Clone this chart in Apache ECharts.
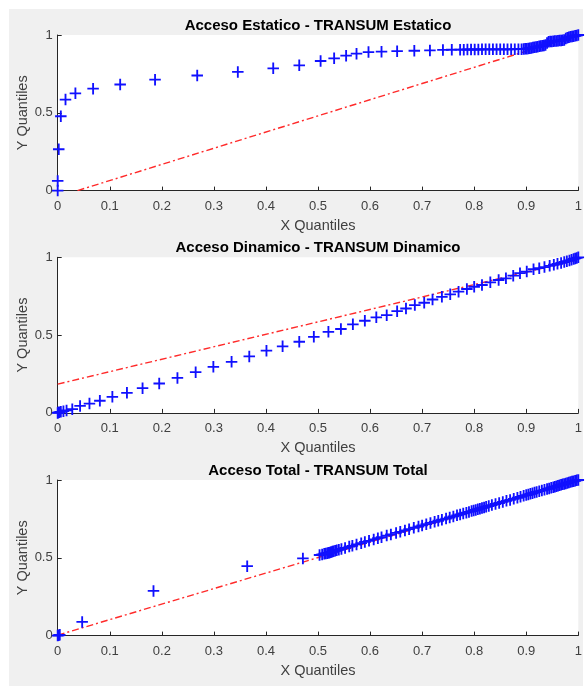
<!DOCTYPE html>
<html>
<head>
<meta charset="utf-8">
<script src="https://cdn.jsdelivr.net/npm/echarts@6/dist/echarts.min.js"></script>
<style>
  html, body { margin: 0; padding: 0; background: #ffffff; }
  #frame { position: absolute; left: 9px; top: 9px; width: 574px; height: 677px; background: #f0f0f0; }
  #chart { position: absolute; left: 0; top: 0; width: 585px; height: 686px; }
</style>
</head>
<body>
<div id="frame"></div>
<div id="chart"></div>
<script>
// Panel titles and axis labels
const titles = [
  'Acceso Estatico - TRANSUM Estatico',
  'Acceso Dinamico - TRANSUM Dinamico',
  'Acceso Total - TRANSUM Total'
];
const xName = 'X Quantiles';
const yName = 'Y Quantiles';

// Estatico: sample quantiles
const estX = [0, 0, 0.002, 0.006, 0.015, 0.034, 0.068, 0.120, 0.187, 0.268, 0.346, 0.414, 0.464,
  0.505, 0.531, 0.554, 0.574, 0.597, 0.622, 0.652, 0.685, 0.715, 0.740, 0.757,
  0.773, 0.780, 0.787, 0.794, 0.801, 0.808, 0.815, 0.822, 0.829, 0.836, 0.843, 0.850,
  0.857, 0.864, 0.871, 0.878, 0.885, 0.891,
  0.895, 0.898, 0.901, 0.904, 0.907, 0.910, 0.913, 0.916, 0.919, 0.922, 0.925, 0.928,
  0.931, 0.934, 0.937, 0.940, 0.943, 0.946, 0.949, 0.952, 0.955, 0.958, 0.961, 0.964,
  0.967, 0.970, 0.973, 0.976, 0.979, 0.982, 0.985, 0.988, 0.991, 0.994, 0.997, 1.000];
const estY = [0, 0.062, 0.266, 0.478, 0.585, 0.625, 0.655, 0.682, 0.713, 0.740, 0.763, 0.786, 0.805,
  0.833, 0.850, 0.867, 0.880, 0.890, 0.893, 0.896, 0.899, 0.901, 0.904, 0.905,
  0.906, 0.906, 0.907, 0.907, 0.907, 0.907, 0.908, 0.908, 0.908, 0.908, 0.908, 0.908,
  0.908, 0.908, 0.908, 0.909, 0.909, 0.909,
  0.910, 0.911, 0.912, 0.913, 0.915, 0.917, 0.919, 0.921, 0.923, 0.925, 0.927, 0.929,
  0.931, 0.933, 0.936, 0.948, 0.956, 0.958, 0.959, 0.960, 0.961, 0.962, 0.963, 0.964,
  0.965, 0.966, 0.968, 0.978, 0.983, 0.986, 0.988, 0.990, 0.992, 0.995, 0.997, 1.000];
// Estatico: reference line end points [x, y]
const estLine = [[0.038, 0], [1, 1]];

// Dinamico: sample quantiles
const dinX = [0, 0.001, 0.003, 0.006, 0.011, 0.017, 0.028, 0.043, 0.061, 0.081, 0.105, 0.133,
  0.163, 0.195, 0.230, 0.265, 0.299, 0.334, 0.368, 0.401, 0.432, 0.464, 0.492, 0.520,
  0.544, 0.567, 0.590, 0.612, 0.632, 0.652, 0.669, 0.686, 0.704, 0.720, 0.738, 0.754,
  0.770, 0.786, 0.800, 0.815, 0.831, 0.847, 0.861, 0.875, 0.888, 0.901, 0.914, 0.925,
  0.935, 0.945, 0.953, 0.960, 0.967, 0.973, 0.978, 0.983, 0.987, 0.991, 0.994, 0.997, 1.000];
const dinY = [0, 0.002, 0.004, 0.007, 0.011, 0.016, 0.024, 0.045, 0.060, 0.078, 0.103, 0.129,
  0.159, 0.189, 0.225, 0.262, 0.296, 0.328, 0.363, 0.400, 0.428, 0.457, 0.489, 0.521,
  0.539, 0.569, 0.592, 0.614, 0.628, 0.654, 0.671, 0.693, 0.708, 0.729, 0.746, 0.762,
  0.779, 0.796, 0.811, 0.822, 0.839, 0.854, 0.865, 0.882, 0.898, 0.908, 0.923, 0.930,
  0.937, 0.945, 0.952, 0.958, 0.964, 0.970, 0.975, 0.980, 0.985, 0.989, 0.993, 0.996, 1.000];
const dinLine = [[0, 0.185], [1, 0.985]];

// Total: sample quantiles
const totX = [0, 0.002, 0.004, 0.047, 0.184, 0.364, 0.471, 0.503,
  0.508, 0.512, 0.515, 0.518, 0.520, 0.522, 0.524, 0.526, 0.528, 0.530, 0.533, 0.536,
  0.540, 0.545, 0.552, 0.560, 0.566, 0.574, 0.583, 0.590, 0.598, 0.607, 0.615, 0.622,
  0.632, 0.640, 0.650, 0.658, 0.667, 0.675, 0.684, 0.693, 0.700, 0.708, 0.716, 0.724,
  0.731, 0.738, 0.746, 0.753, 0.760, 0.767, 0.773, 0.779, 0.785, 0.790, 0.795, 0.799,
  0.803, 0.807, 0.811, 0.815, 0.819, 0.823, 0.828, 0.834, 0.841, 0.848, 0.855, 0.862,
  0.869, 0.876, 0.883, 0.889, 0.895, 0.900, 0.904, 0.908, 0.912, 0.916, 0.920, 0.925,
  0.930, 0.935, 0.940, 0.944, 0.948, 0.952, 0.955, 0.958, 0.961, 0.964, 0.967, 0.970,
  0.973, 0.976, 0.979, 0.982, 0.985, 0.988, 0.991, 0.994, 0.997, 1.000];
const totY = [0, 0.002, 0.005, 0.088, 0.287, 0.446, 0.496, 0.518,
  0.522, 0.526, 0.528, 0.530, 0.532, 0.533, 0.535, 0.537, 0.540, 0.542, 0.545, 0.548,
  0.551, 0.557, 0.563, 0.572, 0.577, 0.586, 0.594, 0.602, 0.609, 0.618, 0.626, 0.632,
  0.643, 0.650, 0.660, 0.667, 0.676, 0.684, 0.693, 0.701, 0.708, 0.716, 0.724, 0.731,
  0.738, 0.745, 0.752, 0.759, 0.766, 0.773, 0.779, 0.785, 0.790, 0.795, 0.800, 0.804,
  0.808, 0.812, 0.816, 0.820, 0.824, 0.828, 0.833, 0.839, 0.846, 0.852, 0.859, 0.866,
  0.872, 0.879, 0.886, 0.892, 0.898, 0.903, 0.907, 0.911, 0.915, 0.919, 0.923, 0.928,
  0.932, 0.937, 0.942, 0.946, 0.950, 0.954, 0.957, 0.960, 0.963, 0.966, 0.969, 0.972,
  0.975, 0.978, 0.981, 0.984, 0.987, 0.990, 0.992, 0.995, 0.998, 1.000];
const totLine = [[0, 0.003], [1, 1]];

// Axis ticks
const xTickStep = 0.1;
const yTickStep = 0.5;

const FONT = '"Liberation Sans", Arial, Helvetica, sans-serif';
const AXIS_COLOR = '#262626';
const LABEL_COLOR = '#404040';
// Plus-sign marker, drawn as a filled cross
const PLUS = 'path://M4.2,0H5.8V4.2H10V5.8H5.8V10H4.2V5.8H0V4.2H4.2Z';

const panels = [
  { x: estX, y: estY, line: estLine, top: 35 },
  { x: dinX, y: dinY, line: dinLine, top: 257.3 },
  { x: totX, y: totY, line: totLine, top: 480 }
];
const plotLeft = 57.7, plotRight = 578.3, plotH = 155.6;

const zip = (a, b) => a.map((v, i) => [v, b[i]]);

const option = {
  animation: false,
  backgroundColor: 'transparent',
  textStyle: { fontFamily: FONT },
  grid: panels.map(p => ({
    left: plotLeft, width: plotRight - plotLeft, top: p.top, height: plotH,
    show: true, backgroundColor: '#ffffff', borderWidth: 0, containLabel: false
  })),
  xAxis: panels.map((p, i) => ({
    type: 'value', gridIndex: i, min: 0, max: 1, interval: xTickStep,
    name: xName, nameLocation: 'middle', nameGap: 28,
    nameTextStyle: { color: LABEL_COLOR, fontSize: 14.5, fontFamily: FONT },
    axisLine: { show: true, lineStyle: { color: AXIS_COLOR, width: 1 } },
    axisTick: { show: true, inside: true, length: 4, lineStyle: { color: AXIS_COLOR } },
    axisLabel: { color: LABEL_COLOR, fontSize: 13, margin: 9, fontFamily: FONT },
    splitLine: { show: false }
  })),
  yAxis: panels.map((p, i) => ({
    type: 'value', gridIndex: i, min: 0, max: 1, interval: yTickStep,
    name: yName, nameLocation: 'middle', nameGap: 27, nameMoveOverlap: false,
    nameTextStyle: { color: LABEL_COLOR, fontSize: 14.5, fontFamily: FONT },
    axisLine: { show: true, lineStyle: { color: AXIS_COLOR, width: 1 } },
    axisTick: { show: true, inside: true, length: 4, lineStyle: { color: AXIS_COLOR } },
    axisLabel: { color: LABEL_COLOR, fontSize: 13, margin: 5, fontFamily: FONT },
    splitLine: { show: false }
  })),
  graphic: titles.map((t, i) => ({
    type: 'text',
    x: (plotLeft + plotRight) / 2,
    y: panels[i].top - 9.5,
    style: {
      text: t, fill: '#000000', font: 'bold 15px ' + FONT,
      textAlign: 'center', textVerticalAlign: 'middle'
    }
  })),
  series: []
};

panels.forEach((p, i) => {
  option.series.push({
    type: 'line', xAxisIndex: i, yAxisIndex: i,
    data: p.line, symbol: 'none', silent: true, z: 2,
    lineStyle: { color: '#ff2a2a', width: 1.4, type: [7, 3, 2, 3] }
  });
  option.series.push({
    type: 'scatter', xAxisIndex: i, yAxisIndex: i,
    data: zip(p.x, p.y), symbol: PLUS, symbolSize: 11.5, clip: false, z: 3,
    itemStyle: { color: '#1010ff', opacity: 1 }
  });
});

const chart = echarts.init(document.getElementById('chart'), null, { renderer: 'canvas' });
chart.setOption(option);
</script>
</body>
</html>
